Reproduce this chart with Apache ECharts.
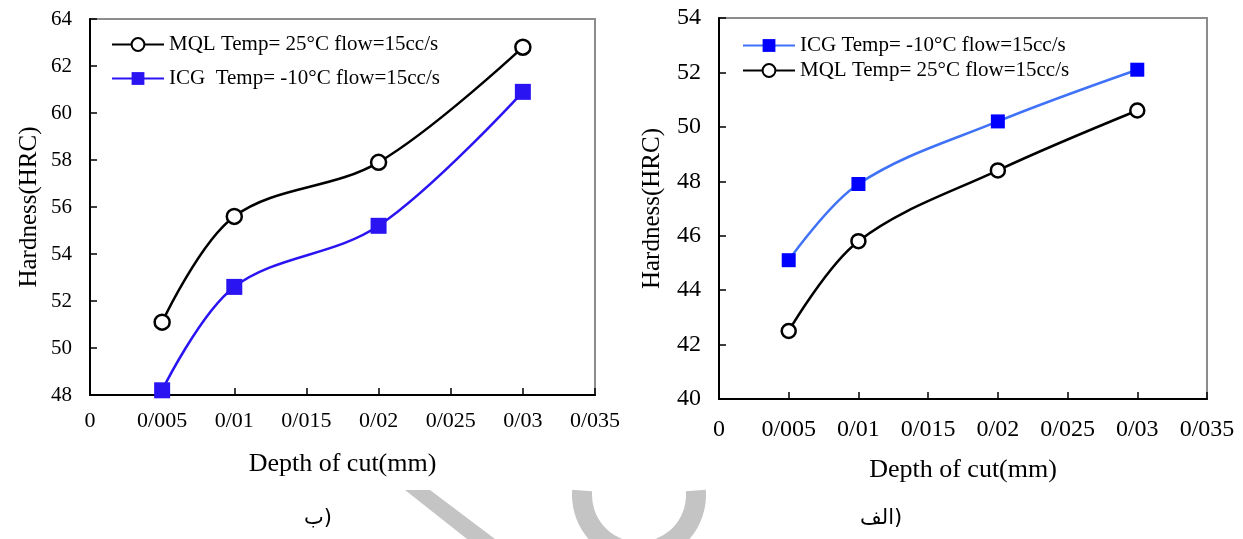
<!DOCTYPE html>
<html>
<head>
<meta charset="utf-8">
<script src="https://cdn.jsdelivr.net/npm/echarts@6/dist/echarts.min.js"></script>
<style>
  html, body { margin: 0; padding: 0; background: #fff; }
  #main { width: 1243px; height: 539px; }
</style>
</head>
<body>
<div id="main"></div>
<script>
// depth of cut (mm) and hardness (HRC)
const depth = [0.005, 0.01, 0.02, 0.03];
const leftMql = [51.1, 55.6, 57.9, 62.8];
const leftIcg = [48.2, 52.6, 55.2, 60.9];
const rightIcg = [45.1, 47.9, 50.2, 52.1];
const rightMql = [42.5, 45.8, 48.4, 50.6];

const MQL_NAME = 'MQL Temp= 25°C flow=15cc/s';
const ICG_LEFT_NAME = 'ICG  Temp= -10°C flow=15cc/s';
const ICG_RIGHT_NAME = 'ICG Temp= -10°C flow=15cc/s';

const SERIF = "'Liberation Serif', 'Times New Roman', serif";

const pairs = (xs, ys) => xs.map((x, i) => [x, ys[i]]);
const depthLabel = v => (v === 0 ? '0' : String(+v.toFixed(3)).replace('.', '/'));

function xAxisFor(gridIndex, fontSize, margin, nameGap) {
    return {
        type: 'value', gridIndex,
        min: 0, max: 0.035, interval: 0.005,
        name: 'Depth of cut(mm)', nameLocation: 'middle', nameGap,
        nameTextStyle: { fontFamily: SERIF, fontSize: 26, color: '#000' },
        axisLine: { lineStyle: { color: '#000', width: 2 } },
        axisTick: { inside: true, length: 7, lineStyle: { color: '#000', width: 1.5 } },
        axisLabel: { formatter: depthLabel, fontFamily: SERIF, fontSize, color: '#000', margin },
        splitLine: { show: false }
    };
}

function yAxisFor(gridIndex, min, max, fontSize, nameGap) {
    return {
        type: 'value', gridIndex,
        min, max, interval: 2,
        name: 'Hardness(HRC)', nameLocation: 'middle', nameGap, nameRotate: 90,
        nameTextStyle: { fontFamily: SERIF, fontSize: 25, color: '#000' },
        axisLine: { show: true, lineStyle: { color: '#000', width: 2 } },
        axisTick: { show: true, inside: true, length: 7, lineStyle: { color: '#000', width: 1.5 } },
        axisLabel: { fontFamily: SERIF, fontSize, color: '#000', margin: 18 },
        splitLine: { show: false }
    };
}

function mqlSeries(idx, data, size) {
    return {
        name: MQL_NAME, type: 'line', xAxisIndex: idx, yAxisIndex: idx,
        data: pairs(depth, data), smooth: 0.35, clip: false,
        symbol: 'circle', symbolSize: size,
        lineStyle: { color: '#000', width: 2.5 },
        itemStyle: { color: '#fff', borderColor: '#000', borderWidth: 2.5 },
        z: 3
    };
}

function icgSeries(idx, name, data, size, lineColor, markColor) {
    return {
        name, type: 'line', xAxisIndex: idx, yAxisIndex: idx,
        data: pairs(depth, data), smooth: 0.35, clip: false,
        symbol: 'rect', symbolSize: size,
        lineStyle: { color: lineColor, width: 2.5 },
        itemStyle: { color: markColor, borderWidth: 0 },
        z: 2
    };
}

const chart = echarts.init(document.getElementById('main'));

const option = {
    backgroundColor: '#fff',
    animation: false,
    grid: [
        { left: 90, top: 19, width: 505, height: 376, show: true, borderColor: '#8c8c8c', borderWidth: 2 },
        { left: 719, top: 18, width: 488, height: 381, show: true, borderColor: '#8c8c8c', borderWidth: 2 }
    ],
    legend: [
        {
            data: [MQL_NAME, ICG_LEFT_NAME], orient: 'vertical',
            left: 106, top: 29, itemWidth: 52, itemHeight: 16, itemGap: 13,
            textStyle: { fontFamily: SERIF, fontSize: 21, color: '#000', lineHeight: 21 }
        },
        {
            data: [ICG_RIGHT_NAME, MQL_NAME], orient: 'vertical',
            left: 737, top: 30, itemWidth: 52, itemHeight: 16, itemGap: 4,
            textStyle: { fontFamily: SERIF, fontSize: 21, color: '#000', lineHeight: 21 }
        }
    ],
    xAxis: [xAxisFor(0, 22, 15, 56), xAxisFor(1, 24, 19, 58)],
    yAxis: [yAxisFor(0, 48, 64, 21, 48), yAxisFor(1, 40, 54, 24, 54)],
    series: [
        mqlSeries(0, leftMql, 15),
        icgSeries(0, ICG_LEFT_NAME, leftIcg, 16, '#2a14f2', '#2a14f2'),
        icgSeries(1, ICG_RIGHT_NAME, rightIcg, 14, '#3f72f7', '#0000ff'),
        mqlSeries(1, rightMql, 14)
    ],
    graphic: [
        // faint watermark pieces below the panels
        {
            type: 'polygon', z: -10, silent: true,
            shape: { points: [[405, 490], [430, 490], [495, 539], [467, 539]] },
            style: { fill: '#c4c4c4' }
        },
        {
            type: 'sector', z: -10, silent: true,
            shape: { cx: 639, cy: 495, r: 67, r0: 47, startAngle: -0.08, endAngle: Math.PI + 0.08, clockwise: true },
            style: { fill: '#c4c4c4' }
        },
        {
            type: 'text', left: 304, top: 508,
            style: { text: 'ب)', font: "21px 'DejaVu Sans', sans-serif", fill: '#000' }
        },
        {
            type: 'text', left: 860, top: 508,
            style: { text: 'الف)', font: "21px 'DejaVu Sans', sans-serif", fill: '#000' }
        }
    ]
};

chart.setOption(option);
</script>
</body>
</html>
